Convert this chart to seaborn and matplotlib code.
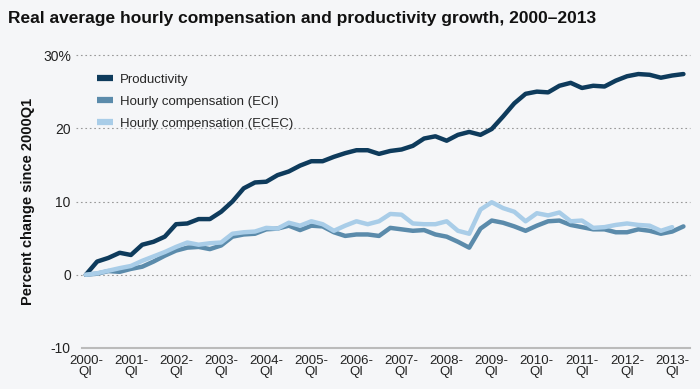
import numpy as np
import pandas as pd
import matplotlib
matplotlib.use("Agg")
import matplotlib.pyplot as plt
import seaborn as sns

# quarterly values, percent change since 2000Q1
productivity = [
    0.0, 1.8, 2.3, 3.0, 2.7, 4.1, 4.5, 5.2, 6.9, 7.0, 7.6, 7.6, 8.6, 10.0,
    11.8, 12.6, 12.7, 13.6, 14.1, 14.9, 15.5, 15.5, 16.1, 16.6, 17.0, 17.0,
    16.5, 16.9, 17.1, 17.6, 18.6, 18.9, 18.3, 19.1, 19.5, 19.1, 19.9, 21.6,
    23.4, 24.7, 25.0, 24.9, 25.8, 26.2, 25.5, 25.8, 25.7, 26.5, 27.1, 27.4,
    27.3, 26.9, 27.2, 27.4,
]
eci = [
    0.0, 0.15, 0.5, 0.4, 0.8, 1.1, 1.8, 2.6, 3.3, 3.7, 3.8, 3.5, 4.0, 5.2,
    5.5, 5.6, 6.2, 6.3, 6.7, 6.1, 6.7, 6.6, 5.8, 5.3, 5.5, 5.5, 5.3, 6.4,
    6.2, 6.0, 6.1, 5.5, 5.2, 4.5, 3.7, 6.3, 7.4, 7.1, 6.6, 6.0, 6.7, 7.3,
    7.4, 6.8, 6.5, 6.2, 6.2, 5.8, 5.8, 6.2, 6.0, 5.6, 5.9, 6.6,
]
ecec = [
    0.0, 0.2, 0.55, 0.9, 1.2, 1.9, 2.5, 3.1, 3.8, 4.4, 4.1, 4.3, 4.4, 5.6,
    5.8, 5.9, 6.4, 6.3, 7.1, 6.7, 7.3, 6.9, 6.0, 6.7, 7.3, 6.9, 7.3, 8.3,
    8.2, 7.0, 6.9, 6.9, 7.3, 6.0, 5.6, 8.9, 9.9, 9.1, 8.6, 7.3, 8.4, 8.1,
    8.5, 7.3, 7.4, 6.4, 6.5, 6.8, 7.0, 6.8, 6.7, 6.0, 6.5,
]
years = list(range(2000, 2014))
tick_labels = [f"{y}-\nQI" for y in years]

series_names = ["Productivity", "Hourly compensation (ECI)", "Hourly compensation (ECEC)"]
colors = ["#0e3b5c", "#5b8bab", "#a9cde8"]

frames = []
for name, vals in zip(series_names, [productivity, eci, ecec]):
    frames.append(pd.DataFrame({"quarter": np.arange(len(vals)), "value": vals, "series": name}))
df = pd.concat(frames, ignore_index=True)

bg = "#f5f6f8"
sns.set_theme(style="white")
plt.rcParams["font.family"] = ["Liberation Sans", "DejaVu Sans"]

fig = plt.figure(figsize=(7, 3.89), dpi=100, facecolor=bg)
ax = fig.add_axes([0.117, 0.1054, 0.869, 0.7532], facecolor=bg)

sns.lineplot(data=df, x="quarter", y="value", hue="series", hue_order=series_names,
             palette=colors, linewidth=3.2, ax=ax)

ax.set_xlim(-0.35, 53.6)
ax.set_ylim(-10, 30)
ax.set_yticks([-10, 0, 10, 20, 30])
ax.set_yticklabels(["-10", "0", "10", "20", "30%"])
ax.set_xticks([4 * i for i in range(len(years))])
ax.set_xticklabels(tick_labels, linespacing=0.9)
ax.tick_params(axis="y", length=0, labelsize=10, pad=8, colors="#222222")
ax.tick_params(axis="x", length=4, width=1, color="#bbbbbb", labelsize=9.5, pad=1, labelcolor="#222222")

for y in [0, 10, 20, 30]:
    ax.axhline(y, xmin=-0.01, color="#999999", linestyle=(0, (1.5, 2.5)), linewidth=0.8,
               zorder=0, clip_on=False)

for s in ["top", "right", "left"]:
    ax.spines[s].set_visible(False)
ax.spines["bottom"].set_color("#bbbbbb")
ax.spines["bottom"].set_linewidth(1.5)

ax.set_xlabel("")
ax.set_ylabel("Percent change since 2000Q1", fontsize=10.5, fontweight="bold", labelpad=6,
              color="#111111")

leg = ax.legend(loc="upper left", bbox_to_anchor=(0.005, 0.978), frameon=False,
                fontsize=9.5, handlelength=1.25, handletextpad=0.5, labelspacing=0.75)
for line in leg.get_lines():
    line.set_linewidth(4.5)
    line.set_solid_capstyle("butt")

fig.text(0.011, 0.953, "Real average hourly compensation and productivity growth, 2000\u20132013",
         fontsize=12.5, fontweight="bold", va="center", ha="left", color="#111111")

fig.savefig("out.png", dpi=100, facecolor=bg)
